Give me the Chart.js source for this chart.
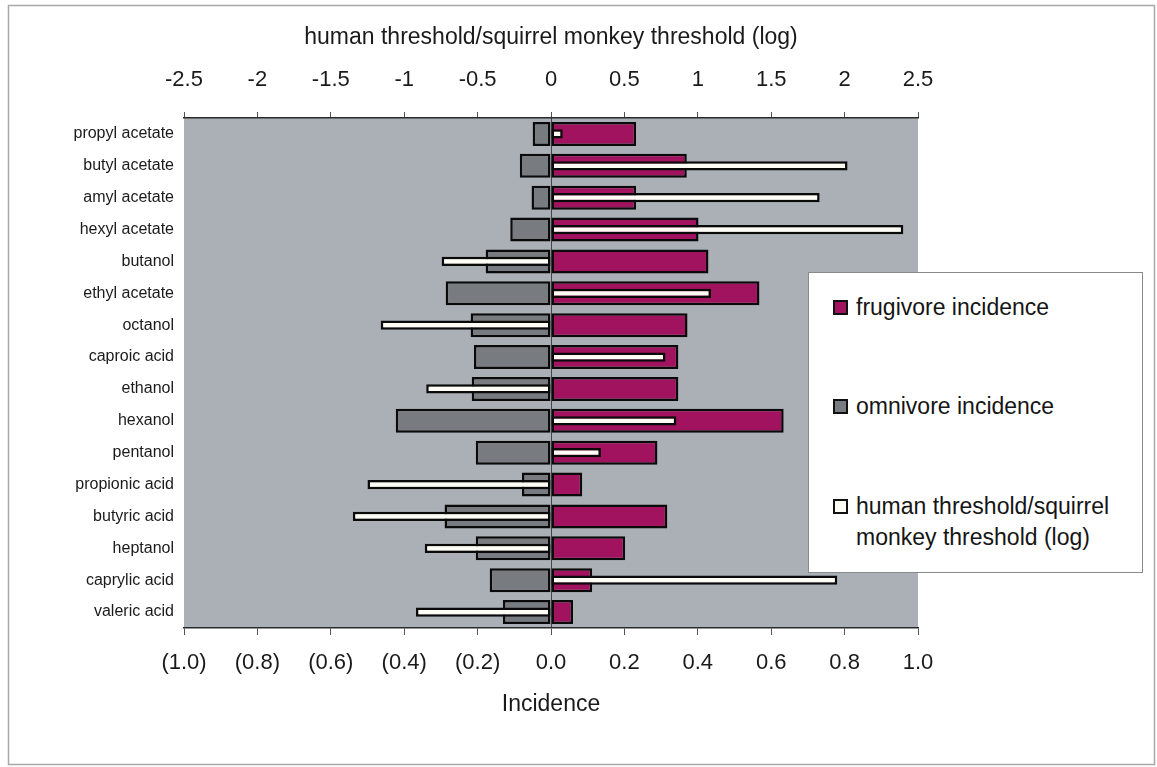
<!DOCTYPE html>
<html>
<head>
<meta charset="utf-8">
<script src="https://cdn.jsdelivr.net/npm/chart.js@4/dist/chart.umd.min.js"></script>
<style>
  html, body { margin: 0; padding: 0; background: #fff; }
  #wrap { position: relative; width: 1157px; height: 767px; }
  #legend { position: absolute; left: 808px; top: 272px; width: 335px; height: 301px;
    background: #fff; border: 1px solid #8a8a8a; box-sizing: border-box;
    font-family: "Liberation Sans", Arial, sans-serif; font-size: 23px; color: #151515; }
  .item { position: absolute; left: 24px; line-height: 31px; }
  .sw { position: absolute; left: 0; width: 11px; height: 11px; border: 2px solid #111; }
  .txt { position: absolute; left: 23px; white-space: nowrap; }
</style>
</head>
<body>
<div id="wrap">
  <canvas id="c" width="1157" height="767"></canvas>
  <div id="legend"></div>
</div>
<script>
// ---- data ----
const categories = ['propyl acetate','butyl acetate','amyl acetate','hexyl acetate','butanol','ethyl acetate','octanol','caproic acid','ethanol','hexanol','pentanol','propionic acid','butyric acid','heptanol','caprylic acid','valeric acid'];
const frugivoreIncidence = [0.232,0.370,0.232,0.402,0.429,0.568,0.372,0.347,0.347,0.634,0.290,0.085,0.317,0.202,0.112,0.060];
const omnivoreIncidence = [-0.050,-0.085,-0.053,-0.111,-0.178,-0.287,-0.219,-0.210,-0.216,-0.423,-0.205,-0.079,-0.290,-0.205,-0.167,-0.131];
const thresholdRatioLog = [0.08,2.02,1.83,2.40,-0.745,1.09,-1.16,0.78,-0.85,0.854,0.34,-1.25,-1.35,-0.86,1.95,-0.92];
const seriesNames = ['frugivore incidence','omnivore incidence','human threshold/squirrel monkey threshold (log)'];
const topAxisTitle = 'human threshold/squirrel monkey threshold (log)';
const bottomAxisTitle = 'Incidence';

const COL_FRUG = '#a2135f';
const COL_OMNI = '#787b7f';
const COL_HUM = '#fdfdf6';
const PLOT_BG = '#aab0b6';
const FONT = '"Liberation Sans", Arial, sans-serif';

Chart.defaults.font.family = FONT;
Chart.defaults.color = '#1a1a1a';

const bgPlugin = {
  id: 'bg',
  beforeDraw(chart) {
    const {ctx, chartArea: a} = chart;
    ctx.save();
    ctx.fillStyle = '#fff';
    ctx.fillRect(0, 0, chart.width, chart.height);
    ctx.strokeStyle = '#a8a8a8';
    ctx.lineWidth = 1.5;
    ctx.strokeRect(8.5, 5.5, 1146, 759);
    ctx.fillStyle = PLOT_BG;
    ctx.fillRect(a.left, a.top, a.right - a.left, a.bottom - a.top);
    ctx.restore();
  }
};

new Chart(document.getElementById('c'), {
  type: 'bar',
  data: {
    labels: categories,
    datasets: [
      { label: seriesNames[2], data: thresholdRatioLog, xAxisID: 'x2', backgroundColor: COL_HUM,
        borderColor: '#0a0a0a', borderWidth: 2.5, borderSkipped: false, grouped: false,
        barPercentage: 0.29, categoryPercentage: 1, order: 0 },
      { label: seriesNames[0], data: frugivoreIncidence, xAxisID: 'x', backgroundColor: COL_FRUG,
        borderColor: '#0a0a0a', borderWidth: 2.5, borderSkipped: false, grouped: false,
        barPercentage: 0.75, categoryPercentage: 1, order: 1 },
      { label: seriesNames[1], data: omnivoreIncidence, xAxisID: 'x', backgroundColor: COL_OMNI,
        borderColor: '#0a0a0a', borderWidth: 2.5, borderSkipped: false, grouped: false,
        barPercentage: 0.75, categoryPercentage: 1, order: 2 }
    ]
  },
  options: {
    indexAxis: 'y',
    responsive: false,
    animation: false,
    layout: { padding: { left: 0, right: 239, top: 0, bottom: 0 } },
    plugins: { legend: { display: false }, tooltip: { enabled: false } },
    scales: {
      y: {
        type: 'category',
        position: 'left',
        grid: { display: false, drawTicks: false },
        border: { display: false },
        ticks: { font: { size: 16 }, color: '#1a1a1a', padding: 10, autoSkip: false },
        afterFit(s) { s.width = 184; }
      },
      x: {
        position: 'bottom',
        min: -1, max: 1,
        ticks: {
          stepSize: 0.2, font: { size: 22 }, color: '#1a1a1a', padding: 15,
          callback: (v) => { const r = Math.round(v * 10) / 10; return r < 0 ? '(' + Math.abs(r).toFixed(1) + ')' : r.toFixed(1); }
        },
        grid: {
          color: (c) => (c.tick && Math.abs(c.tick.value) < 1e-9) ? 'rgba(50,50,50,0.85)' : 'rgba(0,0,0,0)',
          tickColor: '#555', tickLength: 7, lineWidth: 1
        },
        border: { color: '#2a2a2a', width: 1.5 },
        title: { display: true, text: bottomAxisTitle, font: { size: 23 }, color: '#1a1a1a', padding: { top: 0, bottom: 49 } },
        afterFit(s) { s.height = 139; }
      },
      x2: {
        position: 'top',
        min: -2.5, max: 2.5,
        ticks: {
          stepSize: 0.5, font: { size: 22 }, color: '#1a1a1a', padding: 19,
          callback: (v) => String(Math.round(v * 10) / 10)
        },
        grid: { drawOnChartArea: false, tickColor: '#555', tickLength: 6 },
        border: { color: '#2a2a2a', width: 1.5 },
        title: { display: true, text: topAxisTitle, font: { size: 23 }, color: '#1a1a1a', padding: { top: 24, bottom: 0 } },
        afterFit(s) { s.height = 118; }
      }
    }
  },
  plugins: [bgPlugin]
});

// ---- HTML legend ----
const legend = document.getElementById('legend');
const legendItems = [
  { text: seriesNames[0], color: COL_FRUG, top: 19 },
  { text: seriesNames[1], color: COL_OMNI, top: 118 },
  { text: 'human threshold/squirrel<br>monkey threshold (log)', color: COL_HUM, top: 218 }
];
legendItems.forEach(it => {
  const d = document.createElement('div');
  d.className = 'item';
  d.style.top = it.top + 'px';
  d.innerHTML = '<span class="sw" style="top:8px;background:' + it.color + '"></span><span class="txt">' + it.text + '</span>';
  legend.appendChild(d);
});
</script>
</body>
</html>
